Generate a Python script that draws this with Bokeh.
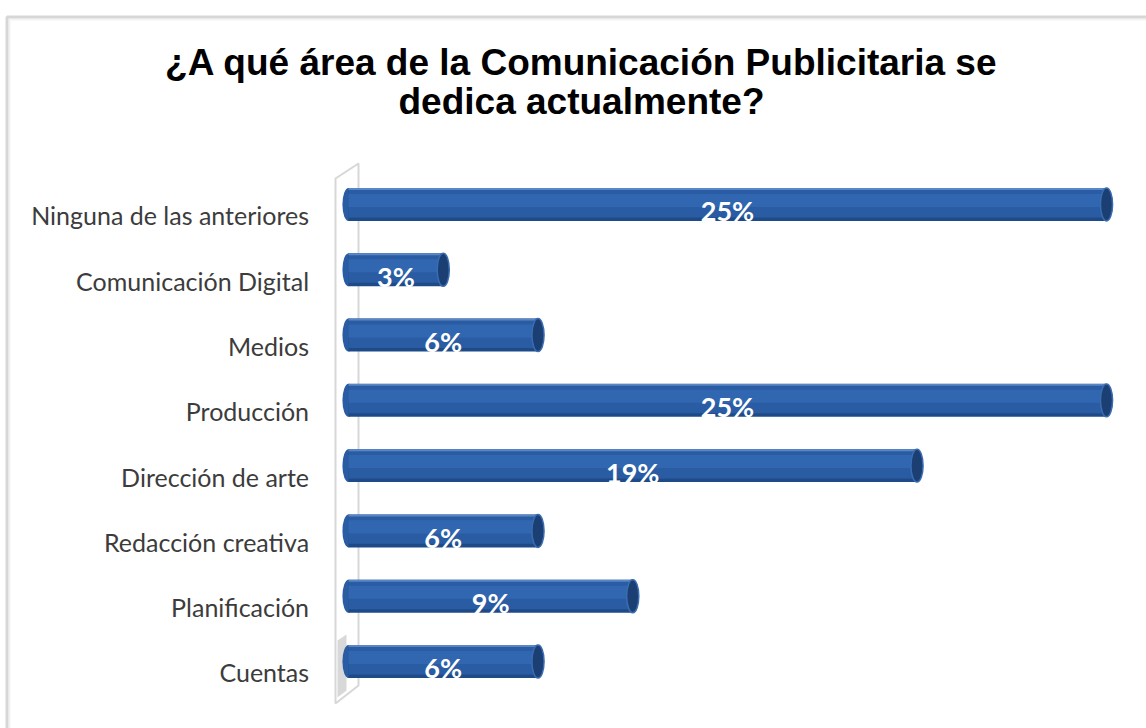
from bokeh.plotting import figure
from bokeh.models import ColumnDataSource, Range1d, Label, BoxAnnotation, PolyAnnotation
from bokeh.transform import dodge
from bokeh.core.properties import value
from bokeh.embed import file_html
from bokeh.resources import INLINE

# ---- data (bottom to top) ----
categories = ["Cuentas", "Planificación", "Redacción creativa", "Dirección de arte",
              "Producción", "Medios", "Comunicación Digital", "Ninguna de las anteriores"]
percentages = [6.25, 9.375, 6.25, 18.75, 25, 6.25, 3.125, 25]
labels = [f"{round(v)}%" for v in percentages]
title_lines = ["¿A qué área de la Comunicación Publicitaria se", "dedica actualmente?"]

pos = list(range(len(categories)))
src = ColumnDataSource(dict(cat=categories, pos=pos, val=percentages,
                            mid=[v / 2 for v in percentages], lab=labels,
                            lx=[-1.3] * len(categories)))

W, H = 1146, 728
p = figure(width=W, height=H, output_backend="svg", toolbar_location=None,
           x_range=Range1d(-11.477, 26.319), y_range=Range1d(-0.858, 10.292),
           x_axis_location=None, y_axis_location=None,
           min_border=0, min_border_left=0, min_border_right=0,
           min_border_top=0, min_border_bottom=0)
p.outline_line_color = None
p.background_fill_color = "white"
p.border_fill_color = "white"
p.xgrid.visible = False
p.ygrid.visible = False

# chart border (top & left visible, right/bottom beyond the picture)
p.add_layout(BoxAnnotation(left=6.5, right=3000, top=16.5, bottom=3000,
                           left_units="canvas", right_units="canvas",
                           top_units="canvas", bottom_units="canvas",
                           fill_color=None, line_color="#7a7a7a", line_width=3))
p.add_layout(BoxAnnotation(left=9, right=3000, top=19, bottom=3000,
                           left_units="canvas", right_units="canvas",
                           top_units="canvas", bottom_units="canvas",
                           fill_color=None, line_color="#d6d6d6", line_width=2))

# 3D side wall (behind the bars)
p.add_layout(PolyAnnotation(xs=[335, 358, 358, 335], ys=[178, 163, 685, 703],
                            xs_units="canvas", ys_units="canvas",
                            fill_color="white", fill_alpha=1.0,
                            line_color="#7c7c7c", line_width=2, level="underlay"))
p.add_layout(PolyAnnotation(xs=[337, 346, 346, 337], ys=[640, 634, 690, 697],
                            xs_units="canvas", ys_units="canvas",
                            fill_color="#c8c8c8", fill_alpha=0.7,
                            line_color=None, level="underlay"))

yb = dodge("pos", 0.168)
# left rounded end
p.ellipse(x=0, y=yb, width=0.4, height=0.505, source=src, fill_color="#2a5ca3", line_color=None)
# body shading layers
p.hbar(y=yb, left=0, right="val", height=0.505, source=src, fill_color="#1e4b88", line_color=None)
p.hbar(y=dodge("pos", 0.185), left=0, right="val", height=0.43, source=src,
       fill_color="#2a5ca3", line_color=None)
p.hbar(y=dodge("pos", 0.23), left=0, right="val", height=0.2, source=src,
       fill_color="#3166b0", line_color=None)
p.hbar(y=dodge("pos", 0.405), left=0, right="val", height=0.03, source=src,
       fill_color="#5a86c6", line_color=None)
# right cap
p.ellipse(x="val", y=yb, width=0.4, height=0.505, source=src, fill_color="#1c3f73",
          line_color="#3a6cb2", line_width=1.5)

# value labels
p.text(x="mid", y=dodge("pos", 0.07), text="lab", source=src,
       text_font=value("Lato"), text_font_style="bold", text_font_size="27px",
       text_color="white", text_align="center", text_baseline="middle")

# category labels
p.text(x="lx", y="pos", text="cat", source=src,
       text_font=value("Lato"), text_font_size="25px", text_color="#3c3c3c",
       text_align="right", text_baseline="middle")

# title
for line, yy in zip(title_lines, [62, 101]):
    p.add_layout(Label(x=581, y=yy, x_units="canvas", y_units="canvas", text=line,
                       text_font="Liberation Sans", text_font_style="bold",
                       text_font_size="37px", text_color="black",
                       text_align="center", text_baseline="middle"))

open("out.html", "w").write(file_html(p, INLINE))
